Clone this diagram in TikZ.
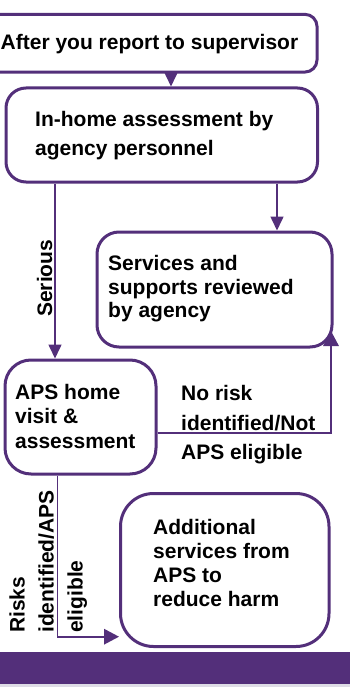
\documentclass[tikz,border=0pt]{standalone}
\usepackage{fontspec}
\setmainfont{Liberation Sans}
\usetikzlibrary{arrows.meta}
\definecolor{aps}{RGB}{83,47,122}
\definecolor{barline}{RGB}{222,220,230}
\newcommand{\firstline}{\rule{0pt}{17pt}}
\begin{document}
\begin{tikzpicture}[x=1pt,y=-1pt,
  box/.style={draw=aps, line width=3pt, rectangle, inner sep=0pt, fill=white},
  txt/.style={font=\bfseries\fontsize{21}{24}\selectfont, align=left, inner sep=0pt, anchor=north west, text=black},
  conn/.style={draw=aps, line width=1.6pt, -{Triangle[width=13pt,length=14pt]}},
  bigtip/.style={-{Triangle[width=15.5pt,length=15pt]}},
  lbl/.style={font=\bfseries\fontsize{21}{29}\selectfont, align=left, inner sep=0pt, anchor=north west, text=black}]
\useasboundingbox (0,0) rectangle (350,687);
\clip (0,0) rectangle (350,687);

% flowchart boxes
\node[box, rounded corners=12pt, minimum width=338pt, minimum height=57.7pt] (b1) at (148,43.2) {};
\node[box, rounded corners=20pt, minimum width=311.5pt, minimum height=94pt] (b2) at (161.75,135) {};
\node[box, rounded corners=22pt, minimum width=235pt, minimum height=115pt] (b3) at (214.5,289.5) {};
\node[box, rounded corners=26pt, minimum width=151pt, minimum height=114pt] (b4) at (80.5,417) {};
\node[box, rounded corners=33pt, minimum width=208.5pt, minimum height=153pt] (b5) at (224.75,570) {};

% box texts
\node[txt] (t1) at (0.5,32) {\firstline After you report to supervisor};
\node[txt, font=\bfseries\fontsize{21}{29}\selectfont] (t2) at (35,109.5) {\firstline In-home assessment by\\agency personnel};
\node[txt, font=\bfseries\fontsize{21}{23.6}\selectfont] (t3) at (108,253.5) {\firstline Services and\\supports reviewed\\by agency};
\node[txt, font=\bfseries\fontsize{21}{24.5}\selectfont] (t4) at (15,382) {\firstline APS home\\visit \&\\assessment};
\node[txt, font=\bfseries\fontsize{21}{24.1}\selectfont] (t5) at (153,517.3) {\firstline Additional\\services from\\APS to\\reduce harm};

% connector labels
\node[lbl, rotate=90] (lserious) at (35,317) {\firstline Serious};
\node[lbl, rotate=90] (lrisks) at (7.5,633) {\firstline Risks\\identified/APS\\eligible};
\node[lbl, font=\bfseries\fontsize{21}{29.3}\selectfont] (lnorisk) at (181,383.7) {\firstline No risk\\identified/Not\\APS eligible};

% connector routing points
\coordinate (xa) at (171,0);
\coordinate (xb) at (277,0);
\coordinate (xs) at (55,0);
\coordinate (xr) at (57.3,0);
\coordinate (k) at (331,433);
\coordinate (tp) at (331,331);
\coordinate (kr) at (57.3,636.7);

% connectors
\draw[conn] (xa |- b1.south) -- (xa |- b2.north);
\draw[conn] (xb |- b2.south) -- (xb |- b3.north);
\draw[conn] (xs |- b2.south) -- (xs |- b4.north);
\draw[conn, bigtip] (b4.east |- k) -- (k) -- (tp);
\draw[conn, bigtip] (xr |- b4.south) -- (kr) -- (b5.west |- kr);

% footer band
\fill[aps] (0,652) rectangle (350,684);
\fill[barline] (0,684) rectangle (350,686.5);
\end{tikzpicture}
\end{document}
